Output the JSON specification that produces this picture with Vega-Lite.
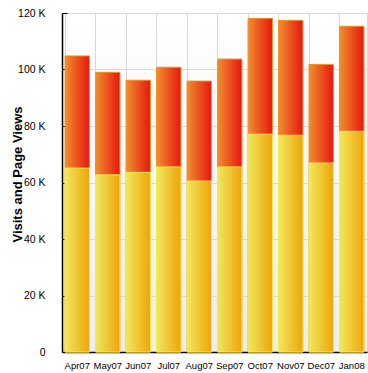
{
  "$schema": "https://vega.github.io/schema/vega-lite/v6.json",
  "autosize": "none",
  "width": 305,
  "height": 339,
  "padding": {"left": 62, "top": 13, "right": 1, "bottom": 21},
  "background": "white",
  "config": {
    "font": "Liberation Sans",
    "view": {
      "stroke": "#d8d8d8",
      "fill": {"gradient": "linear", "x1": 0, "y1": 0, "x2": 0, "y2": 1, "stops": [{"offset": 0, "color": "#ffffff"}, {"offset": 1, "color": "#eeeeee"}]}
    }
  },
  "data": {
    "values": [
      {"month": "Apr07", "visits": 65100, "views": 104800},
      {"month": "May07", "visits": 62700, "views": 99000},
      {"month": "Jun07", "visits": 63600, "views": 96200},
      {"month": "Jul07", "visits": 65500, "views": 100800},
      {"month": "Aug07", "visits": 60500, "views": 95900},
      {"month": "Sep07", "visits": 65500, "views": 103700},
      {"month": "Oct07", "visits": 77100, "views": 118100},
      {"month": "Nov07", "visits": 76700, "views": 117400},
      {"month": "Dec07", "visits": 66900, "views": 101800},
      {"month": "Jan08", "visits": 78100, "views": 115300}
    ]
  },
  "encoding": {
    "x": {
      "field": "month", "type": "nominal", "sort": null,
      "scale": {"paddingInner": 0.2, "paddingOuter": 0.1},
      "axis": {
        "title": null, "labelAngle": 0, "labelFontSize": 9.5, "labelColor": "#000000",
        "labelPadding": 13, "bandPosition": 0, "grid": true, "gridColor": "#d8d8d8",
        "tickSize": -5, "tickColor": "#000000", "domainColor": "#000000", "domainWidth": 1.5
      }
    }
  },
  "layer": [
    {
      "mark": {
        "type": "bar", "strokeWidth": 1, "stroke": "#f09028",
        "color": {"gradient": "linear", "x1": 0, "y1": 0, "x2": 1, "y2": 0, "stops": [{"offset": 0, "color": "#ef8f2e"}, {"offset": 1, "color": "#e8160f"}]}
      },
      "encoding": {
        "y": {
          "field": "views", "type": "quantitative",
          "scale": {"domain": [0, 120000], "nice": false},
          "axis": {
            "title": "Visits and Page Views", "titleFontSize": 13, "titleFontWeight": "bold", "titleColor": "#000000",
            "titleX": -45, "titleY": 161, "titleAlign": "center", "titleBaseline": "middle", "titleAngle": -90,
            "values": [0, 10000, 20000, 30000, 40000, 50000, 60000, 70000, 80000, 90000, 100000, 110000, 120000],
            "labelExpr": "datum.value == 0 ? '0' : (datum.value % 20000 == 0 ? (datum.value / 1000) + ' K' : '')",
            "labelFontSize": 10.5, "labelColor": "#000000", "labelPadding": 22,
            "grid": true, "gridColor": "#d8d8d8",
            "gridOpacity": {"condition": {"test": "datum.value % 20000 == 0", "value": 1}, "value": 0},
            "tickSize": -5, "tickColor": "#000000", "domainColor": "#000000", "domainWidth": 1.5
          }
        }
      }
    },
    {
      "mark": {
        "type": "bar", "strokeWidth": 1, "stroke": "#f8ec50",
        "color": {"gradient": "linear", "x1": 0, "y1": 0, "x2": 1, "y2": 0, "stops": [{"offset": 0, "color": "#efe95e"}, {"offset": 1, "color": "#f0a308"}]}
      },
      "encoding": {
        "y": {"field": "visits", "type": "quantitative"}
      }
    }
  ]
}
